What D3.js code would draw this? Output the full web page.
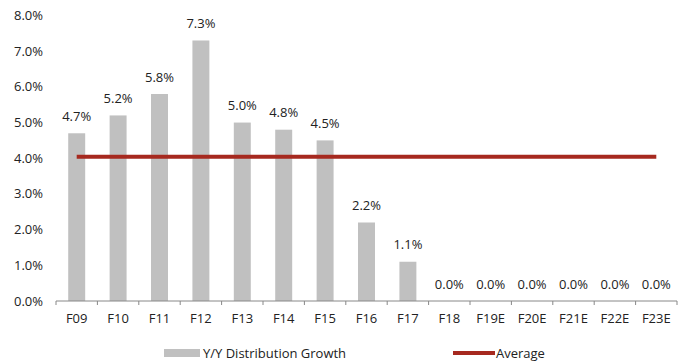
<!DOCTYPE html>
<html>
<head>
<meta charset="utf-8">
<script src="https://cdn.jsdelivr.net/npm/d3@7/dist/d3.min.js"></script>
<style>
  html, body { margin: 0; padding: 0; background: #fff; }
  svg text { font-family: "Open Sans", "Noto Sans", sans-serif; fill: #222; }
</style>
</head>
<body>
<svg id="chart" width="682" height="362"></svg>
<script>
// Fiscal years and year-over-year distribution growth (%)
const categories = ["F09","F10","F11","F12","F13","F14","F15","F16","F17","F18","F19E","F20E","F21E","F22E","F23E"];
const growth = [4.7, 5.2, 5.8, 7.3, 5.0, 4.8, 4.5, 2.2, 1.1, 0.0, 0.0, 0.0, 0.0, 0.0, 0.0];
const average = 4.04;
const yTicks = [0, 1, 2, 3, 4, 5, 6, 7, 8];
const seriesNames = ["Y/Y Distribution Growth", "Average"];

const svg = d3.select("#chart");
const margin = { left: 56, right: 5, top: 16, bottom: 62 };
const W = 682, H = 362;

const x = d3.scaleBand().domain(categories).range([margin.left, W - margin.right]).paddingInner(0.59).paddingOuter(0.295);
const xb = d3.scaleBand().domain(categories).range([margin.left, W - margin.right]);
const y = d3.scaleLinear().domain([0, 8]).range([H - margin.bottom + 1, margin.top - 0.5]);

const fmt = v => v.toFixed(1) + "%";

// Y axis labels (no axis line)
svg.append("g").selectAll("text").data(yTicks).join("text")
  .attr("x", 43).attr("y", d => y(d)).attr("dy", "0.35em")
  .attr("text-anchor", "end").attr("font-size", 13).text(fmt);

// Bars
svg.append("g").selectAll("rect").data(growth).join("rect")
  .attr("x", (d, i) => x(categories[i]))
  .attr("y", d => y(d))
  .attr("width", x.bandwidth())
  .attr("height", d => y(0) - y(d))
  .attr("fill", "#c0c0c0");

// X axis baseline and ticks at band boundaries
const axisY = y(0);
const xAxis = svg.append("g");
xAxis.append("line").attr("x1", margin.left).attr("x2", W - margin.right)
  .attr("y1", axisY).attr("y2", axisY).attr("stroke", "#888").attr("stroke-width", 1);
const bounds = categories.map(c => xb(c)).concat([xb(categories[categories.length - 1]) + xb.bandwidth()]);
xAxis.selectAll("line.tick").data(bounds).join("line").attr("class", "tick")
  .attr("x1", d => d).attr("x2", d => d).attr("y1", axisY).attr("y2", axisY + 4)
  .attr("stroke", "#888");
xAxis.selectAll("text").data(categories).join("text")
  .attr("x", d => xb(d) + xb.bandwidth() / 2).attr("y", 318).attr("dy", "0.35em")
  .attr("text-anchor", "middle").attr("font-size", 13).text(d => d);

// Value labels
svg.append("g").selectAll("text").data(growth).join("text")
  .attr("x", (d, i) => xb(categories[i]) + xb.bandwidth() / 2)
  .attr("y", d => y(d) - 17).attr("dy", "0.35em")
  .attr("text-anchor", "middle").attr("font-size", 13).text(fmt);

// Average line across band centres
const first = xb(categories[0]) + xb.bandwidth() / 2;
const last = xb(categories[categories.length - 1]) + xb.bandwidth() / 2;
svg.append("line").attr("x1", first).attr("x2", last)
  .attr("y1", y(average)).attr("y2", y(average))
  .attr("stroke", "#a6291f").attr("stroke-width", 4);

// Legend
const lg = svg.append("g");
lg.append("rect").attr("x", 164).attr("y", 349).attr("width", 36).attr("height", 8).attr("fill", "#c0c0c0");
lg.append("text").attr("x", 203).attr("y", 353).attr("dy", "0.35em").attr("font-size", 13).text(seriesNames[0]);
lg.append("line").attr("x1", 453).attr("x2", 495).attr("y1", 353).attr("y2", 353)
  .attr("stroke", "#a6291f").attr("stroke-width", 4);
lg.append("text").attr("x", 496).attr("y", 353).attr("dy", "0.35em").attr("font-size", 13).text(seriesNames[1]);
</script>
</body>
</html>
